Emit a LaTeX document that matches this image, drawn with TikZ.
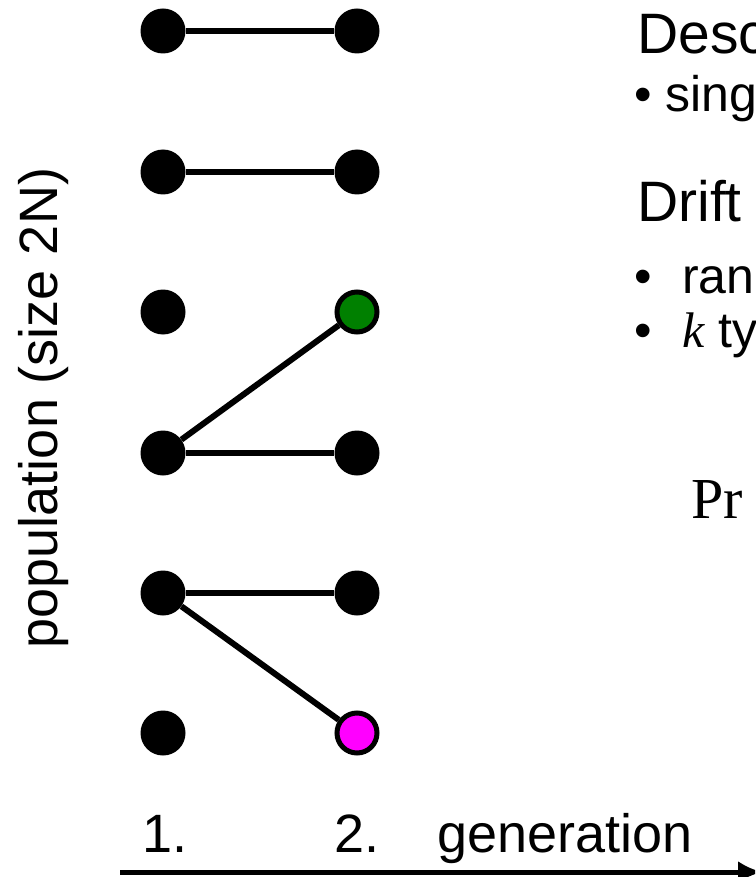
\documentclass[tikz,border=0pt]{standalone}
\usepackage{fontspec}
\setmainfont{Liberation Sans}
\newfontfamily\mathserif{Liberation Serif}
\usetikzlibrary{arrows.meta}
\definecolor{dotgreen}{RGB}{0,128,0}
\definecolor{dotmagenta}{RGB}{255,0,255}
\begin{document}
\begin{tikzpicture}[x=1pt,y=-1pt,
  dot/.style={circle,fill=black,inner sep=0pt,minimum size=45pt},
  ringdot/.style={circle,draw=black,line width=5pt,inner sep=0pt,minimum size=40pt},
  link/.style={line width=6pt},
  axis/.style={line width=5pt,-{Latex[length=24pt,width=22pt]}},
  lbl/.style={font=\fontsize{54}{60}\selectfont,inner sep=0pt,anchor=base west},
  head/.style={font=\fontsize{57}{64}\selectfont,inner sep=0pt,anchor=base west},
  item/.style={font=\fontsize{50}{58}\selectfont,inner sep=0pt,anchor=base west}]
\useasboundingbox (0,0) rectangle (755,877);
\clip (0,0) rectangle (755,877);

% generation 1 (left) and generation 2 (right)
\foreach \i/\y in {1/31,2/172,3/312,4/453,5/593,6/733}{
  \node[dot] (a\i) at (163,\y) {};
}
\foreach \i/\y in {1/31,2/172,4/453,5/593}{
  \node[dot] (b\i) at (357,\y) {};
}
\node[ringdot,fill=dotgreen] (b3) at (357,312) {};
\node[ringdot,fill=dotmagenta] (b6) at (357,733) {};

% parent -> offspring links
\draw[link] (a1) -- (b1);
\draw[link] (a2) -- (b2);
\draw[link] (a4) -- (b3);
\draw[link] (a4) -- (b4);
\draw[link] (a5) -- (b5);
\draw[link] (a5) -- (b6);

% time axis
\coordinate (ax0) at (120,872);
\coordinate (ax1) at (762,872);
\draw[axis] (ax0) -- (ax1);
\node[lbl] (g1) at (142,852) {1.};
\node[lbl] (g2) at (334,852) {2.};
\node[lbl] (gen) at (437,852) {generation};

% population axis label
\node[font=\fontsize{54}{60}\selectfont,inner sep=0pt,rotate=90] (pop) at (44,408) {population (size 2N)};

% right-hand text
\node[head] (t1) at (637,54) {Desc};
\node[item] (b1t) at (634,112) {\textbullet\ sing};
\node[head] (t2) at (637,222) {Drift};
\node[item] (b2a) at (634,293) {\textbullet};
\node[item] (b2t) at (682,293) {ran};
\node[item] (b3a) at (634,347) {\textbullet};
\node[item] (b3t) at (682,347) {{\mathserif\itshape k} ty};
\node[font=\mathserif\fontsize{58}{64}\selectfont,inner sep=0pt,anchor=base west] (pr) at (691,518) {Pr};
\end{tikzpicture}
\end{document}
